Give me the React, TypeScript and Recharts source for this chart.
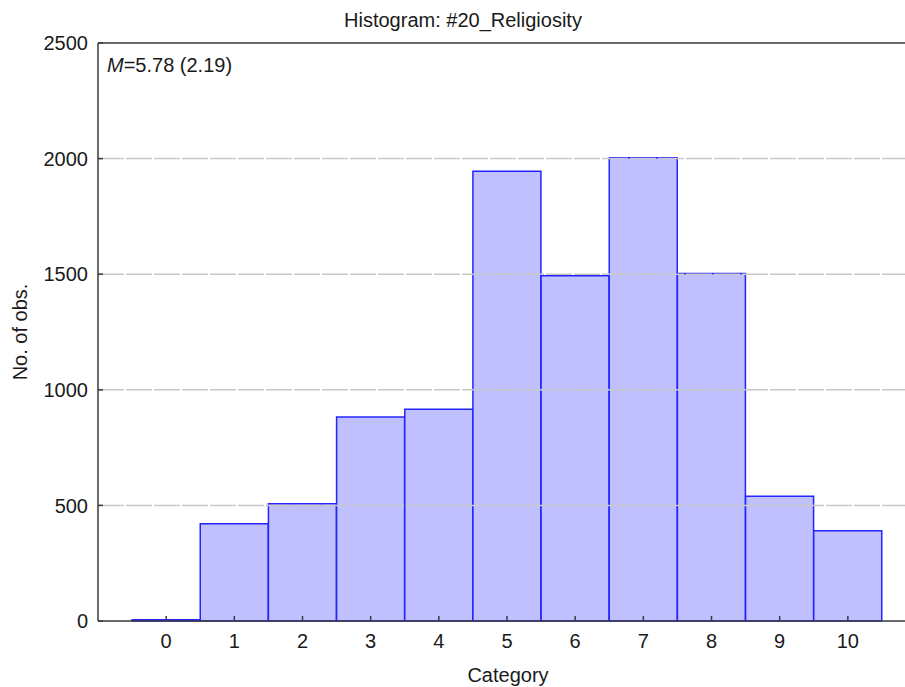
import { BarChart, Bar, XAxis, YAxis, ReferenceLine } from "recharts"

const categories = [0, 1, 2, 3, 4, 5, 6, 7, 8, 9, 10]
const counts = [5, 421, 507, 882, 916, 1945, 1493, 2004, 1503, 540, 390]
const yTicks = [0, 500, 1000, 1500, 2000, 2500]
const gridValues = [500, 1000, 1500, 2000]

const data = categories.map((c, i) => ({ category: c, count: counts[i] }))

const font = "'Liberation Sans', Arial, sans-serif"
const axisColor = "#3a3a3a"
const textColor = "#1a1a1a"
const TICK_GAP = 13
const Y_GAP = 10

// ticks point inward, so draw the mark ourselves next to the label
const BottomTick = (props: any) => {
  const { x, y, payload } = props
  const axisY = y - TICK_GAP
  return (
    <g>
      <line x1={x} x2={x} y1={axisY} y2={axisY - 5} stroke={axisColor} strokeWidth={1.5} />
      <text x={x} y={y} dy="0.71em" textAnchor="middle" fontSize={20} fontFamily={font} fill={textColor}>
        {payload.value}
      </text>
    </g>
  )
}

const TopTick = (props: any) => {
  const { x, y } = props
  return <line x1={x} x2={x} y1={y} y2={y + 5} stroke={axisColor} strokeWidth={1.5} />
}

const LeftTick = (props: any) => {
  const { x, y, payload } = props
  const axisX = x + Y_GAP
  return (
    <g>
      <line x1={axisX} x2={axisX + 5} y1={y} y2={y} stroke={axisColor} strokeWidth={1.5} />
      <text x={x} y={y} dy="0.355em" textAnchor="end" fontSize={20} fontFamily={font} fill={textColor}>
        {payload.value}
      </text>
    </g>
  )
}

export default function App() {
  return (
    <div
      style={{
        position: "absolute",
        left: 0,
        top: 0,
        width: 905,
        height: 687,
        overflow: "hidden",
        background: "#fff",
        fontFamily: font,
      }}
    >
      <BarChart
        width={930}
        height={687}
        data={data}
        margin={{ top: 43, right: 14, bottom: 36, left: 38 }}
        barCategoryGap={0}
        barGap={0}
      >
        {gridValues.map((v) => (
          <ReferenceLine
            key={v}
            y={v}
            stroke="#c8c8c8"
            strokeWidth={1.5}
            strokeDasharray="26 2"
          />
        ))}
        <XAxis
          dataKey="category"
          type="number"
          domain={[-1, 11]}
          ticks={categories}
          height={30}
          stroke={axisColor}
          strokeWidth={1.5}
          tickLine={false}
          tickSize={0}
          tickMargin={TICK_GAP}
          tick={<BottomTick />}
        />
        <XAxis
          xAxisId="top"
          orientation="top"
          type="number"
          domain={[-1, 11]}
          ticks={categories}
          height={0}
          stroke={axisColor}
          strokeWidth={1.5}
          tickLine={false}
          tickSize={0}
          tickMargin={0}
          tick={<TopTick />}
        />
        <YAxis
          type="number"
          domain={[0, 2500]}
          ticks={yTicks}
          width={60}
          stroke={axisColor}
          strokeWidth={1.5}
          tickLine={false}
          tickSize={0}
          tickMargin={Y_GAP}
          tick={<LeftTick />}
        />
        <Bar
          dataKey="count"
          fill="#c0c0ff"
          stroke="#2424ff"
          strokeWidth={1.5}
          isAnimationActive={false}
        />
        <ReferenceLine y={2500} stroke={axisColor} strokeWidth={1.5} />
      </BarChart>
      <svg
        width={905}
        height={687}
        style={{ position: "absolute", left: 0, top: 0, pointerEvents: "none" }}
        fontFamily={font}
        fill={textColor}
      >
        <text x={463} y={27} fontSize={20} textAnchor="middle">
          Histogram: #20_Religiosity
        </text>
        <text x={107} y={72} fontSize={20}>
          <tspan fontStyle="italic">M</tspan>=5.78 (2.19)
        </text>
        <text x={508} y={682} fontSize={20} textAnchor="middle">
          Category
        </text>
        <text
          x={27}
          y={332}
          fontSize={20}
          textAnchor="middle"
          transform="rotate(-90 27 332)"
        >
          No. of obs.
        </text>
      </svg>
    </div>
  )
}
